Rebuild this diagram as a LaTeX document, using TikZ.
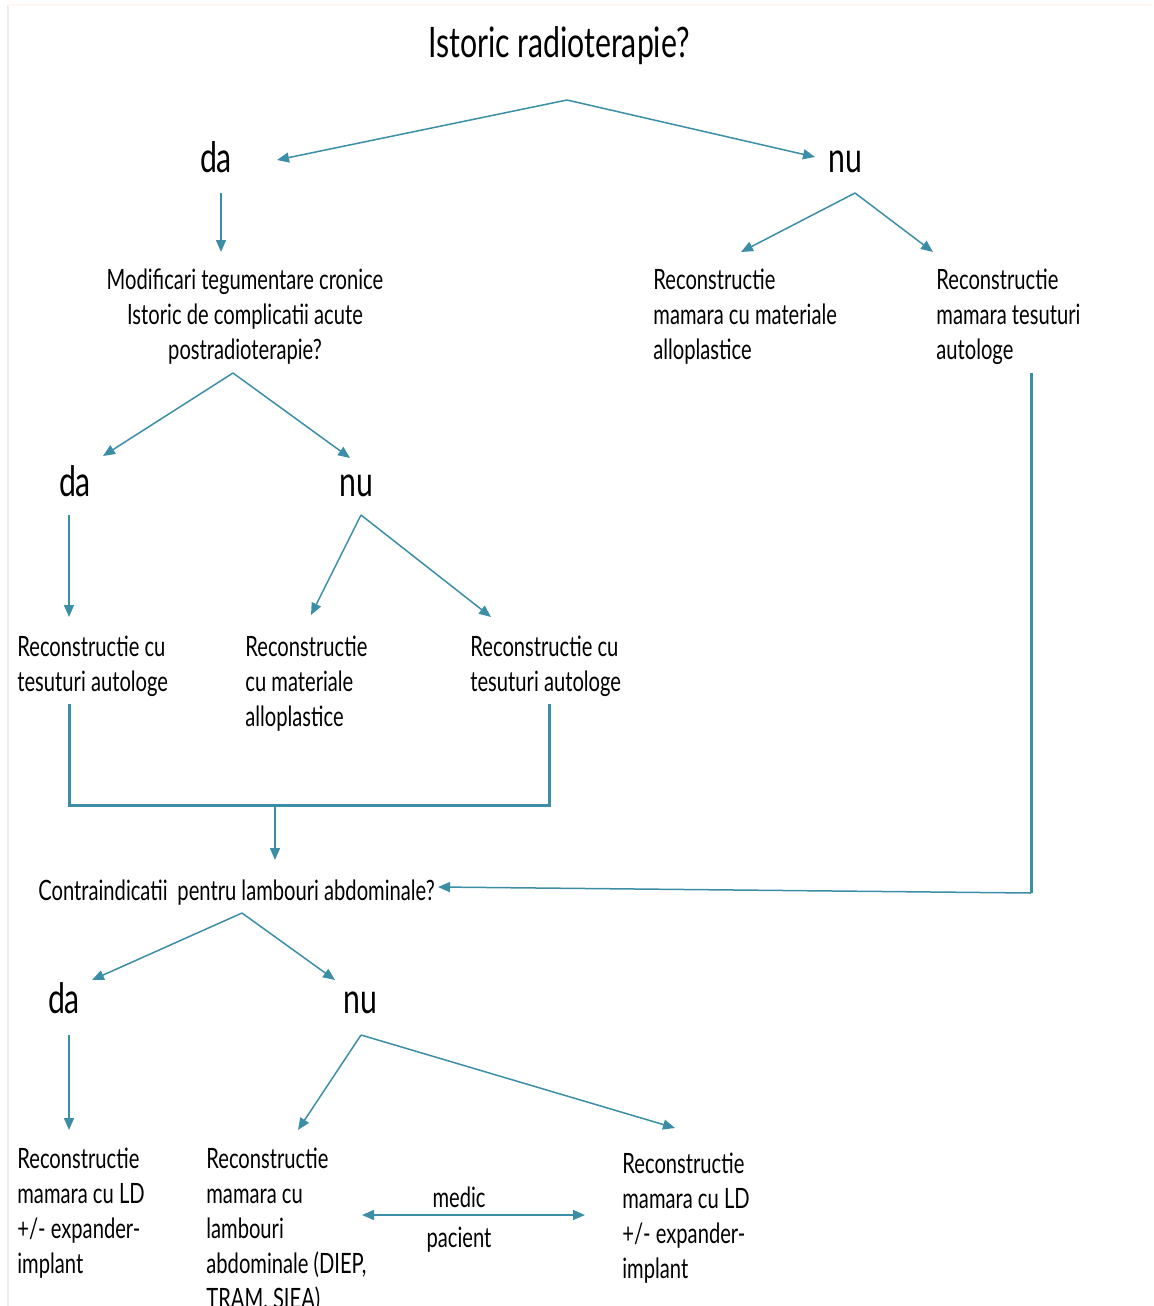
\documentclass[tikz,border=0pt]{standalone}
\usepackage{fontspec}
\setmainfont{Lato}[FakeStretch=0.72]
\usetikzlibrary{arrows.meta,positioning}
\definecolor{flowteal}{RGB}{59,142,166}

\begin{document}
\begin{tikzpicture}[x=0.5pt, y=-0.5pt, >={Triangle[length=6pt,width=5pt]},
  link/.style={draw=flowteal, line width=0.75pt},
  bar/.style={draw=flowteal, line width=1.5pt},
  big/.style={font=\fontsize{21}{25}\selectfont, inner sep=0pt, anchor=base},
  leaf/.style={font=\fontsize{14}{17.5}\selectfont, inner sep=0pt, align=left, anchor=base west}]
  \useasboundingbox (0,0) rectangle (1153,1306);
  \draw[black!7, line width=1pt] (8,5) -- (8,1306);
  \draw[orange!6, line width=1pt] (8,5) -- (1153,5);

  % Questions and answers (leaf nodes placed at the baseline of their last line)
  \node[big] (q1) at (559,57) {Istoric radioterapie?};
  \node[big] (da1) at (216,172) {da};
  \node[big] (nu1) at (845,172) {nu};
  \node[leaf, align=center, anchor=base] (q2) at (245,359)
    {Modificari tegumentare cronice\\Istoric de complicatii acute\\postradioterapie?};
  \node[leaf] (r1) at (653,359) {Reconstructie\\mamara cu materiale\\alloplastice};
  \node[leaf] (r2) at (936,359) {Reconstructie\\mamara tesuturi\\autologe};
  \node[big] (da2) at (75,496) {da};
  \node[big] (nu2) at (356,496) {nu};
  \node[leaf] (a1) at (17,691) {Reconstructie cu\\tesuturi autologe};
  \node[leaf] (a2) at (245,726) {Reconstructie\\cu materiale\\alloplastice};
  \node[leaf] (a3) at (470,691) {Reconstructie cu\\tesuturi autologe};
  \node[leaf] (q3) at (38,900) {Contraindicatii\, pentru lambouri abdominale?};
  \node[big] (da3) at (64,1013) {da};
  \node[big] (nu3) at (360,1013) {nu};
  \node[leaf] (b1) at (17,1273) {Reconstructie\\mamara cu LD\\+/- expander-\\implant};
  \node[leaf] (b2) at (206,1308) {Reconstructie\\mamara cu\\lambouri\\abdominale (DIEP,\\TRAM, SIEA)};
  \node[leaf] (b3) at (622,1278) {Reconstructie\\mamara cu LD\\+/- expander-\\implant};
  \node[leaf, anchor=base] (medic) at (459,1207) {medic};
  \node[leaf, anchor=base] (pacient) at (459,1247) {pacient};

  % Forks and arrow ends
  \coordinate (q1-fork) at (567,100);
  \coordinate (da1-in) at (277,160);
  \coordinate (nu1-in) at (815,157);
  \coordinate (da1-out) at (221,193);
  \coordinate (q2-in) at (221,252);
  \coordinate (q2-fork) at (233,373);
  \coordinate (da2-in) at (103,456);
  \coordinate (nu2-in) at (350,458);
  \coordinate (nu1-fork) at (855,193);
  \coordinate (r1-in) at (741,252);
  \coordinate (r2-in) at (933,252);
  \coordinate (da2-out) at (69,515);
  \coordinate (a1-in) at (69,617);
  \coordinate (nu2-fork) at (361,515);
  \coordinate (a2-in) at (311,615);
  \coordinate (a3-in) at (491,617);
  \coordinate (a1-out) at (69,704);
  \coordinate (a3-out) at (549,704);
  \coordinate (join) at (275,805);
  \coordinate (q3-top) at (275,860);
  \coordinate (r2-out) at (1031,373);
  \coordinate (r2-turn) at (1031,893);
  \coordinate (q3-in) at (438,887);
  \coordinate (q3-fork) at (242,913);
  \coordinate (da3-in) at (92,980);
  \coordinate (nu3-in) at (335,980);
  \coordinate (da3-out) at (69,1035);
  \coordinate (b1-in) at (69,1130);
  \coordinate (nu3-fork) at (361,1035);
  \coordinate (b2-in) at (298,1130);
  \coordinate (b3-in) at (675,1128);
  \coordinate (b2-side) at (362,1215);
  \coordinate (b3-side) at (585,1215);

  % Connectors
  \draw[link,->] (q1-fork) -- (da1-in);
  \draw[link,->] (q1-fork) -- (nu1-in);
  \draw[link,->] (da1-out) -- (q2-in);
  \draw[link,->] (q2-fork) -- (da2-in);
  \draw[link,->] (q2-fork) -- (nu2-in);
  \draw[link,->] (nu1-fork) -- (r1-in);
  \draw[link,->] (nu1-fork) -- (r2-in);
  \draw[link,->] (da2-out) -- (a1-in);
  \draw[link,->] (nu2-fork) -- (a2-in);
  \draw[link,->] (nu2-fork) -- (a3-in);
  \draw[bar] (a1-out) |- (join) -| (a3-out);
  \draw[link,->] (join) -- (q3-top);
  \draw[bar] (r2-out) -- (r2-turn);
  \draw[link,->] (r2-turn) -- (q3-in);
  \draw[link,->] (q3-fork) -- (da3-in);
  \draw[link,->] (q3-fork) -- (nu3-in);
  \draw[link,->] (da3-out) -- (b1-in);
  \draw[link,->] (nu3-fork) -- (b2-in);
  \draw[link,->] (nu3-fork) -- (b3-in);
  \draw[link,<->] (b2-side) -- (b3-side);
\end{tikzpicture}
\end{document}
